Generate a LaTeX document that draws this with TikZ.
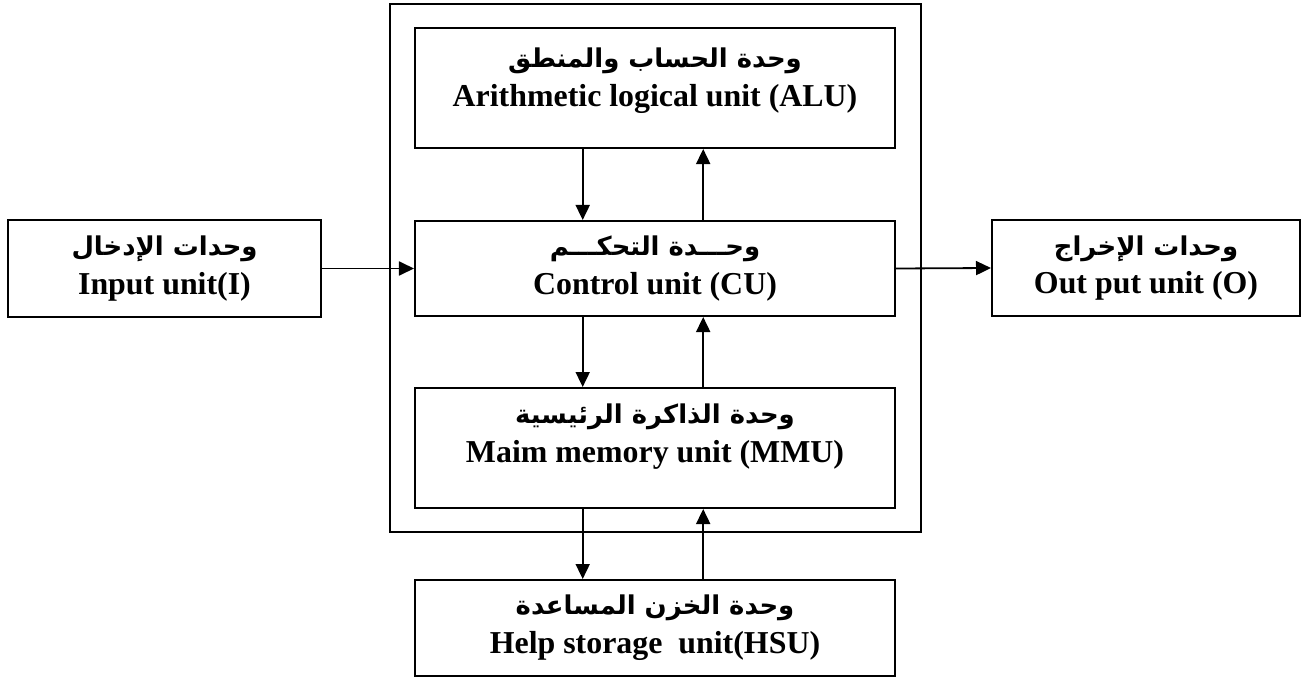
\documentclass[tikz,border=0pt]{standalone}
\usepackage{fontspec}
\setmainfont{Liberation Serif}
\newfontfamily\arabicfont[Script=Arabic]{DejaVu Sans}
\TeXXeTstate=1
\usepackage{tikz}
\usetikzlibrary{arrows.meta, calc, positioning}

\newcommand{\artxt}[1]{{\arabicfont\bfseries\fontsize{13}{19}\selectfont\beginR #1\endR}}

\tikzset{
  unit/.style={draw, line width=1bp, minimum width=240bp, inner sep=0pt},
  txt/.style={align=center, inner sep=0pt, font=\bfseries\fontsize{16}{19.5}\selectfont},
  arr/.style={line width=0.9bp, -{Triangle[length=7.5bp, width=7bp]}}
}

\begin{document}
\begin{tikzpicture}[x={(0.5bp,0)}, y={(0,-0.5bp)}]

            \useasboundingbox (0,0) rectangle (1302,678);

            % Khung ngoai
            \node[draw, line width=1bp, minimum width=265.5bp, minimum height=264bp] (frame) at (655.5,268) {};

            % Don vi ALU
            \node[unit, minimum height=60bp] (alu) at (655,88) {};
            \node[txt] (alutxt) at (655,81) {\artxt{وحدة الحساب والمنطق}\\Arithmetic logical unit (ALU)};

            % Don vi CU
            \node[unit, txt, minimum width=240bp, minimum height=47.5bp] (cu) at (655,268.5) {\artxt{وحـــدة التحكـــم}\\Control unit (CU)};

            % Don vi MMU
            \node[unit, minimum height=60bp] (mmu) at (655,448) {};
            \node[txt] (mmutxt) at (655,437) {\artxt{وحدة الذاكرة الرئيسية}\\Maim memory unit (MMU)};

            % Don vi HSU
            \node[unit, txt, minimum width=240bp, minimum height=48bp] (hsu) at (655,628) {\artxt{وحدة الخزن المساعدة}\\Help storage\ \ unit(HSU)};

            % Don vi vao, ra
            \node[unit, txt, minimum width=156.5bp, minimum height=48.5bp] (inp) at (164.5,268.5) {\artxt{وحدات الإدخال}\\Input unit(I)};
            \node[unit, txt, minimum width=154bp, minimum height=48bp] (outp) at (1146,268) {\artxt{وحدات الإخراج}\\Out put unit (O)};

            % Mui ten ngang
            \draw[arr] (inp.east) -- (cu.west);
            \draw[arr] (cu.east) -- (outp.west);

            % Mui ten doc
            \draw[arr] ($(alu.south west)!0.35!(alu.south east)$) -- ($(cu.north west)!0.35!(cu.north east)$);
            \draw[arr] ($(cu.north west)!0.6!(cu.north east)$) -- ($(alu.south west)!0.6!(alu.south east)$);
            \draw[arr] ($(cu.south west)!0.35!(cu.south east)$) -- ($(mmu.north west)!0.35!(mmu.north east)$);
            \draw[arr] ($(mmu.north west)!0.6!(mmu.north east)$) -- ($(cu.south west)!0.6!(cu.south east)$);
            \draw[arr] ($(mmu.south west)!0.35!(mmu.south east)$) -- ($(hsu.north west)!0.35!(hsu.north east)$);
            \draw[arr] ($(hsu.north west)!0.6!(hsu.north east)$) -- ($(mmu.south west)!0.6!(mmu.south east)$);

            \end{tikzpicture}
\end{document}
